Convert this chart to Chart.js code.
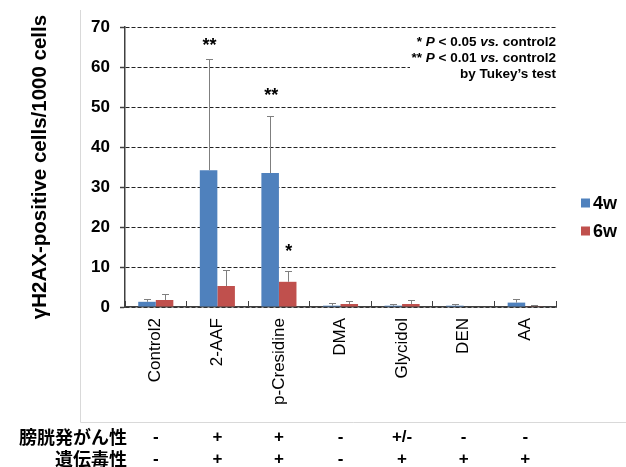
<!DOCTYPE html>
<html><head><meta charset="utf-8">
<script src="https://cdn.jsdelivr.net/npm/chart.js@4.4.0/dist/chart.umd.min.js"></script>
<style>html,body{margin:0;padding:0;background:#fff;}#wrap{width:626px;height:467px;position:relative;}</style>
</head><body><div id="wrap"><canvas id="c" width="626" height="467"></canvas></div>
<script>
const categories = ['Control2', '2-AAF', 'p-Cresidine', 'DMA', 'Glycidol', 'DEN', 'AA'];
const seriesLabels = ['4w', '6w'];
const values4w = [1.3, 34.2, 33.5, 0.33, 0.33, 0.33, 1.1];
const values6w = [1.75, 5.25, 6.3, 0.75, 0.75, 0, 0.17];
const errors4w = [0.6, 27.9, 14.2, 0.7, 0.45, 0.45, 1.0];
const errors6w = [1.4, 3.9, 2.7, 0.75, 0.95, 0, 0.4];
const yTicks = [0, 10, 20, 30, 40, 50, 60, 70];
const sigSeries = [0, 0, 1];
const sigIndex = [1, 2, 2];
const sigMarks = ['**', '**', '*'];
const sigLevel = [66, 53.5, 14.5];
const noteLines = [
  [['* ', false], ['P', true], [' < 0.05 ', false], ['vs.', true], [' control2', false]],
  [['** ', false], ['P', true], [' < 0.01 ', false], ['vs.', true], [' control2', false]],
  [['by Tukey\u2019s test', false]]
];
const rowLabels = ['膀胱発がん性', '遺伝毒性'];
const bladderCarcinogenicity = ['-', '+', '+', '-', '+/-', '-', '-'];
const genotoxicity = ['-', '+', '+', '-', '+', '+', '+'];
const colors = ['#4F81BD', '#C0504D'];

const FONT = '"Liberation Sans", Arial, sans-serif';
const errorsBySeries = [errors4w, errors6w];
const rows = [bladderCarcinogenicity, genotoxicity];

const extras = {
  id: 'extras',
  beforeDraw(chart) {
    const ctx = chart.ctx;
    ctx.save();
    ctx.strokeStyle = '#d9d9d9';
    ctx.lineWidth = 1;
    ctx.beginPath();
    ctx.moveTo(80.5, 10); ctx.lineTo(80.5, 422.5); ctx.lineTo(626, 422.5);
    ctx.stroke();
    ctx.restore();
  },
  afterDatasetsDraw(chart) {
    const ctx = chart.ctx;
    const y = chart.scales.y;
    const x = chart.scales.x;
    ctx.save();
    // error bars
    ctx.strokeStyle = '#7f7f7f';
    ctx.lineWidth = 1;
    chart.data.datasets.forEach((ds, di) => {
      const meta = chart.getDatasetMeta(di);
      meta.data.forEach((el, i) => {
        const v = ds.data[i];
        const e = errorsBySeries[di][i];
        if (!e) return;
        const px = Math.round(el.x) + 0.5;
        const y0 = y.getPixelForValue(v);
        const y1 = Math.round(y.getPixelForValue(v + e)) + 0.5;
        ctx.beginPath();
        ctx.moveTo(px, y0); ctx.lineTo(px, y1);
        ctx.moveTo(px - 3.5, y1); ctx.lineTo(px + 3.5, y1);
        ctx.stroke();
      });
    });
    // significance marks
    ctx.fillStyle = '#000';
    ctx.font = 'bold 18px ' + FONT;
    ctx.textAlign = 'center';
    ctx.textBaseline = 'middle';
    sigMarks.forEach((m, k) => {
      const el = chart.getDatasetMeta(sigSeries[k]).data[sigIndex[k]];
      ctx.fillText(m, el.x + 1, y.getPixelForValue(sigLevel[k]) + 3);
    });
    // note box
    ctx.fillStyle = '#fff';
    ctx.fillRect(410, 32, 150, 48);
    ctx.fillStyle = '#000';
    ctx.textAlign = 'left';
    const noteY = [42, 58, 74];
    const nf = 'bold 13.5px ' + FONT;
    noteLines.forEach((segs, li) => {
      let w = 0;
      segs.forEach(([t, it]) => { ctx.font = (it ? 'italic ' : '') + nf; w += ctx.measureText(t).width; });
      let cx = 556 - w;
      segs.forEach(([t, it]) => { ctx.font = (it ? 'italic ' : '') + nf; ctx.fillText(t, cx, noteY[li]); cx += ctx.measureText(t).width; });
    });
    // legend
    const legY = [203, 231];
    chart.data.datasets.forEach((ds, di) => {
      ctx.fillStyle = ds.backgroundColor;
      ctx.fillRect(581, legY[di] - 4.5, 9, 9);
      ctx.fillStyle = '#000';
      ctx.font = 'bold 18px ' + FONT;
      ctx.textAlign = 'left';
      ctx.fillText(ds.label, 593, legY[di] + 1);
    });
    // bottom table
    const rowY = [437, 459];
    ctx.font = 'bold 18px "Noto Sans CJK JP", sans-serif';
    ctx.textAlign = 'right';
    rowLabels.forEach((t, r) => ctx.fillText(t, 127, rowY[r]));
    ctx.font = 'bold 17px ' + FONT;
    ctx.textAlign = 'center';
    rows.forEach((row, r) => {
      row.forEach((s, i) => ctx.fillText(s, x.getPixelForValue(i), rowY[r]));
    });
    ctx.restore();
  }
};

new Chart(document.getElementById('c'), {
  type: 'bar',
  data: {
    labels: categories,
    datasets: [
      { label: seriesLabels[0], data: values4w, backgroundColor: colors[0] },
      { label: seriesLabels[1], data: values6w, backgroundColor: colors[1] }
    ]
  },
  options: {
    responsive: false,
    animation: false,
    devicePixelRatio: 1,
    categoryPercentage: 0.57,
    barPercentage: 1.0,
    layout: { padding: { left: 28, top: 27, right: 70, bottom: 0 } },
    plugins: { legend: { display: false }, tooltip: { enabled: false } },
    scales: {
      x: {
        offset: true,
        grid: { display: true, drawOnChartArea: false, drawTicks: true, tickLength: -6, tickColor: '#404040', tickWidth: 1, offset: true },
        border: { display: true, color: '#404040', width: 1.5 },
        ticks: { font: { family: FONT, size: 17 }, color: '#000', minRotation: 90, maxRotation: 90, padding: 17, autoSkip: false },
        afterFit(s) { s.height = 160; }
      },
      y: {
        min: 0, max: 70,
        afterBuildTicks(s) { s.ticks = yTicks.map(v => ({ value: v })); },
        grid: { color: '#222', lineWidth: 1, tickLength: 5, tickColor: '#404040', tickBorderDash: [], tickWidth: 1.5 },
        border: { display: true, color: '#404040', width: 1.5, dash: [4, 2] },
        ticks: { font: { family: FONT, size: 17, weight: 'bold' }, color: '#000', padding: 10 },
        title: { display: true, text: 'γH2AX-positive cells/1000 cells', color: '#000', font: { family: FONT, size: 20.5, weight: 'bold' }, padding: { top: 0, bottom: 0 } },
        afterFit(s) { s.width = 97; }
      }
    }
  },
  plugins: [extras]
});
</script>
</body></html>
